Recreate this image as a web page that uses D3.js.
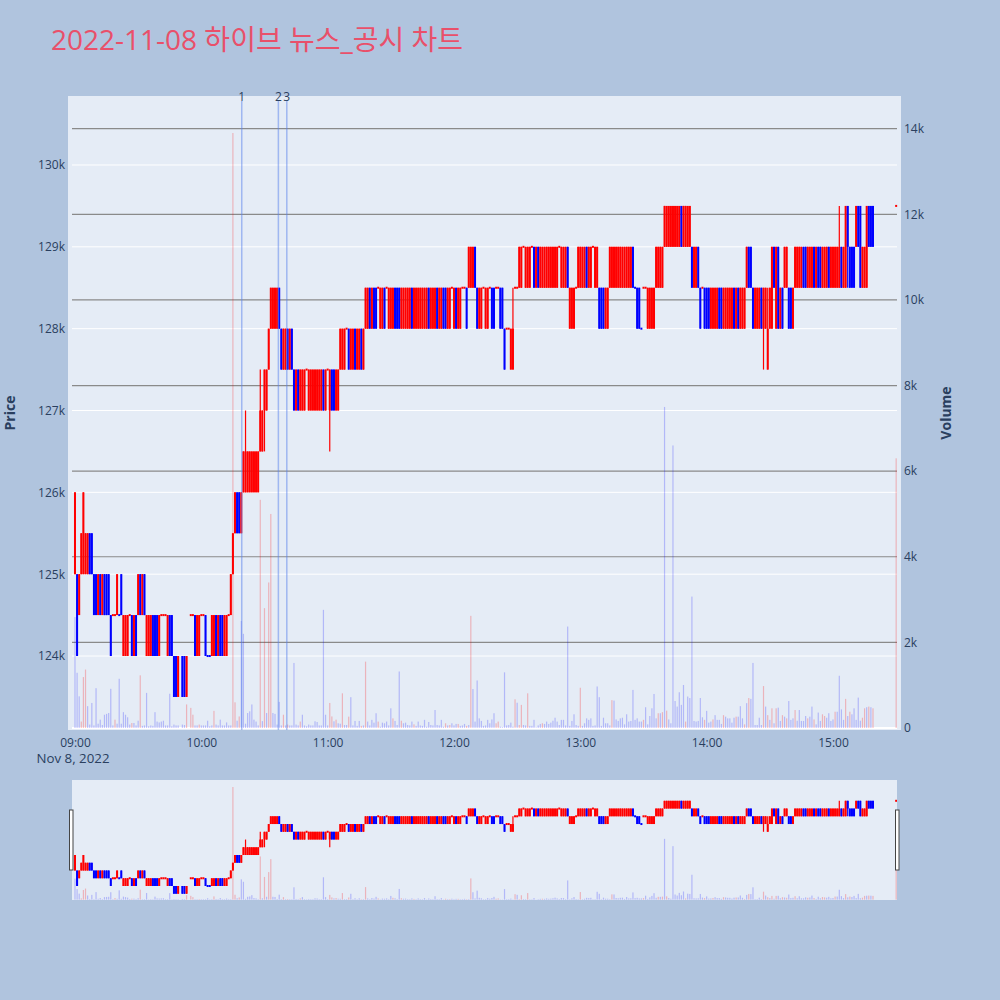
<!DOCTYPE html>
<html>
<head>
<meta charset="utf-8">
<script src="https://cdn.jsdelivr.net/npm/d3@7"></script>
<style>
body { margin: 0; background: #B0C4DE; }
svg { display: block; font-family: "Open Sans", "Noto Sans CJK KR", sans-serif; }
</style>
</head>
<body>
<script>
// one entry per minute from 09:00 (index 0) to 15:30 (index 390), prices in thousand won
var opens = [
  125,125,124.5,125,125,125,125,125.5,125.5,125,               // 09:00
  125,124.5,125,124.5,125,125,125,124.5,124.5,124.5,           // 09:10
  124.5,124.5,125,124,124,124,124.5,124.5,124,124.5,           // 09:20
  124.5,125,124.5,125,124,124,124,124.5,124.5,124.5,           // 09:30
  124,124.5,124.5,124.5,124,124.5,124.5,124,124,123.5,         // 09:40
  null,124,124,123.5,null,124.5,124.5,124.5,124,124,           // 09:50
  124.5,124.5,124.5,124,124,124,124,124.5,124,124.5,           // 10:00
  124.5,124,124,124.5,124.5,125,125.5,126,126,125.5,           // 10:10
  126,126,126,126,126,126,126,126,126.5,126.5,                 // 10:20
  127,127,127.5,128,128,128,128,128.5,128,127.5,               // 10:30
  127.5,128,127.5,128,127.5,127,127.5,127,127,127,             // 10:40
  127.5,127,127,127,127,127,127,127,127.5,127,                 // 10:50
  127.5,127,127.5,127.5,127,127,127.5,127.5,127.5,128,         // 11:00
  128,127.5,127.5,128,127.5,127.5,128,127.5,128,128,           // 11:10
  128.5,128,128.5,128.5,128.5,128,128,128.5,128.5,128,         // 11:20
  128,128,128.5,128.5,128.5,128,128,128,128,128,               // 11:30
  128.5,128,128,128,128,128,128,128,128.5,128,                 // 11:40
  128,128,128.5,128,128,128.5,128.5,128,128,128.5,             // 11:50
  128,128.5,128,128,128.5,128.5,128.5,128.5,128.5,128.5,       // 12:00
  129,128.5,128,128,128.5,128,128,128.5,128.5,128.5,           // 12:10
  128.5,128.5,128.5,128.5,128,128,128,127.5,127.5,128.5,       // 12:20
  128.5,128.5,128.5,129,128.5,128.5,128.5,129,129,128.5,       // 12:30
  129,128.5,128.5,128.5,128.5,128.5,128.5,128.5,128.5,128.5,   // 12:40
  129,128.5,128.5,128.5,129,128,128,128,128.5,128.5,           // 12:50
  128.5,128.5,128.5,129,128.5,128.5,129,128.5,128.5,128.5,     // 13:00
  128.5,128.5,128,128,128.5,128.5,128.5,128.5,128.5,128.5,     // 13:10
  128.5,128.5,128.5,128.5,128.5,129,128.5,128.5,128.5,128,     // 13:20
  128.5,128.5,128,128,128,128,128.5,128.5,128.5,128.5,         // 13:30
  129,129,129,129,129,129,129,129,129.5,129,                   // 13:40
  129,129,129,129,128.5,128.5,129,128.5,128.5,128.5,           // 13:50
  128.5,128.5,128,128,128,128,128.5,128.5,128,128,             // 14:00
  128,128,128,128.5,128,128.5,128,128,128,128.5,               // 14:10
  129,129,128.5,128,128,128,128.5,128,128,127.5,               // 14:20
  128,128,129,128,129,128,128.5,128.5,128.5,128.5,             // 14:30
  128.5,128,128.5,128.5,128.5,128.5,129,129,128.5,128.5,       // 14:40
  128.5,129,128.5,129,129,128.5,128.5,128.5,129,128.5,         // 14:50
  128.5,128.5,128.5,128.5,129,128.5,128.5,129.5,129,129,       // 15:00
  129,129,129.5,129.5,128.5,128.5,128.5,129.5,129.5,129.5,     // 15:10
  null,null,null,null,null,null,null,null,null,null,           // 15:20
  129.5                                                        // 15:30
];
var closes = [
  126,124,125,125.5,126,125.5,125.5,125,125,124.5,
  124.5,125,124.5,125,124.5,124.5,124.5,124,124.5,124.5,
  125,124.5,124.5,124.5,124.5,124.5,124.5,124,124.5,124,
  125,124.5,125,124.5,124.5,124.5,124.5,124,124,124,
  124.5,124.5,124.5,124.5,124.5,124,124,123.5,123.5,124,
  null,123.5,123.5,124,null,124.5,124.5,124,124.5,124.5,
  124.5,124.5,124,124,124,124.5,124.5,124,124.5,124,
  124,124.5,124.5,124.5,125,125.5,126,125.5,125.5,126,
  126.5,126.5,126.5,126.5,126.5,126.5,126.5,126.5,127,127,
  127.5,127.5,128,128.5,128.5,128.5,128.5,128,127.5,128,
  128,127.5,128,127.5,127,127.5,127,127.5,127.5,127.5,
  127.5,127.5,127.5,127.5,127.5,127.5,127.5,127.5,127,127.5,
  127.5,127.5,127,127,127.5,127.5,128,128,128,128,
  127.5,128,128,127.5,128,128,127.5,128,128.5,128.5,
  128,128.5,128,128,128.5,128.5,128.5,128,128.5,128.5,
  128.5,128.5,128,128,128,128.5,128.5,128.5,128.5,128.5,
  128,128.5,128.5,128.5,128.5,128.5,128.5,128.5,128,128.5,
  128.5,128.5,128,128.5,128.5,128,128,128.5,128.5,128.5,
  128.5,128,128.5,128.5,128.5,128.5,128,129,129,129,
  128.5,128,128.5,128.5,128.5,128.5,128.5,128.5,128,128,
  128.5,128.5,128,128,127.5,128,128,128,128,128.5,
  128.5,129,129,129,129,129,129,129,128.5,129,
  128.5,129,129,129,129,129,129,129,129,129,
  129,129,129,129,128.5,128.5,128.5,128.5,128.5,129,
  129,129,129,128.5,129,129,129,129,129,128,
  128,128,128.5,128.5,129,129,129,129,129,129,
  129,129,129,129,129,128.5,128.5,128,128,128,
  128.5,128.5,128.5,128.5,128.5,128.5,129,129,129,129,
  129.5,129.5,129.5,129.5,129.5,129.5,129.5,129.5,129,129.5,
  129.5,129.5,129.5,128.5,129,129,128.5,128,128.5,128,
  128,128,128.5,128.5,128.5,128.5,128,128,128.5,128.5,
  128.5,128.5,128.5,128,128.5,128,128.5,128.5,128.5,129,
  128.5,128.5,128,128.5,128.5,128.5,128,128.5,128.5,128,
  128.5,129,128.5,129,128,128.5,128,129,129,128,
  128,128.5,129,129,129,129,128.5,128.5,129,129,
  129,128.5,129,128.5,128.5,129,129,129,128.5,129,
  129,129,129,129,128.5,129,129.5,129,128.5,128.5,
  128.5,129.5,129,128.5,129,129,129.5,129,129,129,
  null,null,null,null,null,null,null,null,null,null,
  129.5
];
var highs = [
  126,125,125,125.5,126,125.5,125.5,125.5,125.5,125,
  125,125,125,125,125,125,125,124.5,124.5,124.5,
  125,124.5,125,124.5,124.5,124.5,124.5,124.5,124.5,124.5,
  125,125,125,125,124.5,124.5,124.5,124.5,124.5,124.5,
  124.5,124.5,124.5,124.5,124.5,124.5,124.5,124,124,124,
  null,124,124,124,null,124.5,124.5,124.5,124.5,124.5,
  124.5,124.5,124.5,124,124,124.5,124.5,124.5,124.5,124.5,
  124.5,124.5,124.5,124.5,125,125.5,126,126,126,126,
  126.5,127,126.5,126.5,126.5,126.5,126.5,126.5,127.5,127,
  127.5,127.5,128,128.5,128.5,128.5,128.5,128.5,128,128,
  128,128,128,128,127.5,127.5,127.5,127.5,127.5,127.5,
  127.5,127.5,127.5,127.5,127.5,127.5,127.5,127.5,127.5,127.5,
  127.5,127.5,127.5,127.5,127.5,127.5,128,128,128,128,
  128,128,128,128,128,128,128,128,128.5,128.5,
  128.5,128.5,128.5,128.5,128.5,128.5,128.5,128.5,128.5,128.5,
  128.5,128.5,128.5,128.5,128.5,128.5,128.5,128.5,128.5,128.5,
  128.5,128.5,128.5,128.5,128.5,128.5,128.5,128.5,128.5,128.5,
  128.5,128.5,128.5,128.5,128.5,128.5,128.5,128.5,128.5,128.5,
  128.5,128.5,128.5,128.5,128.5,128.5,128.5,129,129,129,
  129,128.5,128.5,128.5,128.5,128.5,128.5,128.5,128.5,128.5,
  128.5,128.5,128.5,128.5,128,128,128,128,128.5,128.5,
  128.5,129,129,129,129,129,129,129,129,129,
  129,129,129,129,129,129,129,129,129,129,
  129,129,129,129,129,128.5,128.5,128.5,128.5,129,
  129,129,129,129,129,129,129,129,129,128.5,
  128.5,128.5,128.5,128.5,129,129,129,129,129,129,
  129,129,129,129,129,129,128.5,128.5,128.5,128,
  128.5,128.5,128.5,128.5,128.5,128.5,129,129,129,129,
  129.5,129.5,129.5,129.5,129.5,129.5,129.5,129.5,129.5,129.5,
  129.5,129.5,129.5,129,129,129,129,128.5,128.5,128.5,
  128.5,128.5,128.5,128.5,128.5,128.5,128.5,128.5,128.5,128.5,
  128.5,128.5,128.5,128.5,128.5,128.5,128.5,128.5,128.5,129,
  129,129,128.5,128.5,128.5,128.5,128.5,128.5,128.5,128.5,
  128.5,129,129,129,129,128.5,128.5,129,129,128.5,
  128.5,128.5,129,129,129,129,129,129,129,129,
  129,129,129,129,129,129,129,129,129,129,
  129,129,129,129.5,129,129,129.5,129.5,129,129,
  129,129.5,129.5,129.5,129,129,129.5,129.5,129.5,129.5,
  null,null,null,null,null,null,null,null,null,null,
  129.5
];
var lows = [
  125,124,124.5,125,125,125,125,125,125,124.5,
  124.5,124.5,124.5,124.5,124.5,124.5,124.5,124,124.5,124.5,
  124.5,124.5,124.5,124,124,124,124.5,124,124,124,
  124.5,124.5,124.5,124.5,124,124,124,124,124,124,
  124,124.5,124.5,124.5,124,124,124,123.5,123.5,123.5,
  null,123.5,123.5,123.5,null,124.5,124.5,124,124,124,
  124.5,124.5,124,124,124,124,124,124,124,124,
  124,124,124,124.5,124.5,125,125.5,125.5,125.5,125.5,
  126,126,126,126,126,126,126,126,126.5,126.5,
  126.5,127,127.5,128,128,128,128,128,127.5,127.5,
  127.5,127.5,127.5,127.5,127,127,127,127,127,127,
  127.5,127,127,127,127,127,127,127,127,127,
  127.5,126.5,127,127,127,127,127.5,127.5,127.5,128,
  127.5,127.5,127.5,127.5,127.5,127.5,127.5,127.5,128,128,
  128,128,128,128,128.5,128,128,128,128.5,128,
  128,128,128,128,128,128,128,128,128,128,
  128,128,128,128,128,128,128,128,128,128,
  128,128,128,128,128,128,128,128,128,128.5,
  128,128,128,128,128.5,128.5,128,128.5,128.5,128.5,
  128.5,128,128,128,128.5,128,128,128.5,128,128,
  128.5,128.5,128,128,127.5,128,128,127.5,127.5,128.5,
  128.5,128.5,128.5,129,128.5,128.5,128.5,129,128.5,128.5,
  128.5,128.5,128.5,128.5,128.5,128.5,128.5,128.5,128.5,128.5,
  129,128.5,128.5,128.5,128.5,128,128,128,128.5,128.5,
  128.5,128.5,128.5,128.5,128.5,128.5,129,128.5,128.5,128,
  128,128,128,128,128.5,128.5,128.5,128.5,128.5,128.5,
  128.5,128.5,128.5,128.5,128.5,128.5,128.5,128,128,128,
  128.5,128.5,128,128,128,128,128.5,128.5,128.5,128.5,
  129,129,129,129,129,129,129,129,129,129,
  129,129,129,128.5,128.5,128.5,128.5,128,128.5,128,
  128,128,128,128,128,128,128,128,128,128,
  128,128,128,128,128,128,128,128,128,128.5,
  128.5,128.5,128,128,128,128,128,127.5,128,127.5,
  128,128,128.5,128,128,128,128,128.5,128.5,128,
  128,128,128.5,128.5,128.5,128.5,128.5,128.5,128.5,128.5,
  128.5,128.5,128.5,128.5,128.5,128.5,128.5,128.5,128.5,128.5,
  128.5,128.5,128.5,128.5,128.5,128.5,128.5,128.5,128.5,128.5,
  128.5,129,129,128.5,128.5,128.5,128.5,129,129,129,
  null,null,null,null,null,null,null,null,null,null,
  129.5
];
// traded shares per minute
var volumes = [
  2590,1290,740,150,1190,1365,510,80,585,60,
  930,100,195,70,310,330,350,915,60,195,
  100,1150,100,370,310,250,80,117,117,60,
  170,1230,50,60,820,40,60,50,370,150,
  130,150,170,60,60,800,40,80,60,60,
  0,80,70,550,0,470,310,60,60,80,
  60,60,60,170,40,60,400,80,60,195,
  60,60,130,60,60,13900,600,170,270,2500,
  2200,100,350,390,550,195,150,60,5330,160,
  2800,350,3400,5000,350,330,80,610,60,310,
  60,80,60,60,1520,80,60,150,310,60,
  40,80,60,60,156,140,60,60,2760,310,
  60,585,270,156,195,110,100,810,70,70,
  265,720,60,165,50,165,50,60,1550,150,
  60,190,125,345,150,30,125,110,150,60,
  460,225,165,70,1320,170,110,125,70,60,
  150,85,50,150,60,50,190,30,140,70,
  60,420,70,60,190,30,110,60,70,110,
  60,95,95,50,60,95,50,70,2620,910,
  150,1110,225,165,50,60,190,110,200,345,
  110,150,30,20,1300,60,70,125,30,670,
  590,70,540,70,60,810,50,50,190,15,
  60,95,110,95,150,95,125,170,240,150,
  70,190,190,60,2370,50,165,320,70,50,
  940,50,110,225,190,225,50,60,970,720,
  50,240,110,110,60,650,640,200,165,225,
  240,85,320,150,165,890,190,225,150,150,
  190,485,85,280,460,795,225,345,345,370,
  7500,405,200,110,6600,630,500,835,540,1005,
  150,735,700,3070,165,150,165,700,250,190,
  400,125,150,200,300,190,190,95,300,265,
  225,225,125,240,265,265,510,225,85,580,
  700,680,1520,70,70,240,70,980,500,300,
  190,460,110,460,475,165,300,265,225,630,
  190,225,420,170,420,165,165,280,225,265,
  500,200,85,360,165,320,280,240,345,165,
  200,380,380,1220,435,190,680,280,380,320,
  460,190,710,170,240,460,485,500,485,460,
  0,0,0,0,0,0,0,0,0,0,
  6300
];
// minutes whose volume bar is drawn red (the rest are blue)
var redVolumeMinutes = [3,4,5,19,27,31,53,55,56,59,66,75,76,78,88,90,92,93,99,101,107,121,122,124,127,
  130,136,138,144,151,155,161,176,178,182,186,188,200,201,209,211,212,215,222,240,255,270,277,279,281,
  290,299,303,308,314,318,320,327,329,331,333,336,338,342,348,351,355,356,361,366,368,374,375,377,379,390];

var newsTimes = ["10:19:12", "10:36:36", "10:40:36"];
var newsLabels = ["1", "2", "3"];
var priceTicks = [124, 125, 126, 127, 128, 129, 130];
var volumeTicks = [0, 2000, 4000, 6000, 8000, 10000, 12000, 14000];

var w = 1000;
var h = 1000;
var textColor = "#2a3f5f";

var t0 = d3.timeParse("%H:%M:%S")("09:00:00");
var timeAt = function(i) { return d3.timeMinute.offset(t0, i); };

var svg = d3.select("body")
    .append("svg")
        .attr("width", w)
        .attr("height", h);

var x = d3.scaleTime()
    .domain([d3.timeSecond.offset(t0, -199), d3.timeSecond.offset(t0, 23538)])
    .range([68, 901]);
var yPrice = d3.scaleLinear().domain([123.096, 130.843]).range([730, 96]);
var yVol = d3.scaleLinear().domain([-47, 14764]).range([730, 96]);

// direction: close vs open, ties fall back to previous close
var candles = [];
var prevClose = null, prevDir = 1;
opens.forEach(function(o, i) {
    if (o == null) return;
    var c = closes[i];
    var dir;
    if (c > o) dir = 1;
    else if (c < o) dir = -1;
    else if (prevClose == null || c == prevClose) dir = prevDir;
    else dir = c > prevClose ? 1 : -1;
    prevClose = c;
    prevDir = dir;
    candles.push({t: timeAt(i), o: o, c: c, h: highs[i], l: lows[i], dir: dir});
});

var vols = [];
volumes.forEach(function(v, i) {
    if (v > 0) vols.push({t: timeAt(i), v: v, red: redVolumeMinutes.indexOf(i) >= 0});
});

var drawSeries = function(g, xs, yp, yv) {
    g.selectAll("rect.vol")
        .data(vols)
        .enter()
        .append("rect")
            .attr("class", "vol")
            .attr("x", function(d) { return xs(d.t) - 0.6; })
            .attr("width", 1.2)
            .attr("y", function(d) { return yv(d.v); })
            .attr("height", function(d) { return yv(0) - yv(d.v); })
            .attr("fill", function(d) { return d.red ? "rgba(255,0,0,0.24)" : "rgba(0,0,255,0.22)"; });

    g.selectAll("line.wick")
        .data(candles)
        .enter()
        .append("line")
            .attr("class", "wick")
            .attr("x1", function(d) { return xs(d.t); })
            .attr("x2", function(d) { return xs(d.t); })
            .attr("y1", function(d) { return yp(d.h); })
            .attr("y2", function(d) { return yp(d.l); })
            .attr("stroke", function(d) { return d.dir > 0 ? "#ff0000" : "#0000ff"; })
            .attr("stroke-width", 1.2);

    g.selectAll("rect.body")
        .data(candles)
        .enter()
        .append("rect")
            .attr("class", "body")
            .attr("x", function(d) { return xs(d.t) - 1; })
            .attr("width", 2)
            .attr("y", function(d) { return d.o == d.c ? yp(d.o) - 1 : yp(Math.max(d.o, d.c)); })
            .attr("height", function(d) { return d.o == d.c ? 2 : Math.abs(yp(d.o) - yp(d.c)); })
            .attr("fill", function(d) { return d.dir > 0 ? "#ff0000" : "#0000ff"; });
};

// title
svg.append("text")
    .text("2022-11-08 하이브 뉴스_공시 차트")
    .attr("x", 51)
    .attr("y", 50)
    .attr("font-size", 28)
    .attr("fill", "#e9506a");

// main plot
svg.append("rect")
    .attr("x", 68).attr("y", 96)
    .attr("width", 833).attr("height", 634)
    .attr("fill", "#e5ecf6");

svg.append("clipPath").attr("id", "mainClip")
    .append("rect").attr("x", 68).attr("y", 96).attr("width", 833).attr("height", 634);

svg.append("g").selectAll("line")
    .data(priceTicks)
    .enter()
    .append("line")
        .attr("x1", 72).attr("x2", 897)
        .attr("y1", function(d) { return yPrice(d); })
        .attr("y2", function(d) { return yPrice(d); })
        .attr("stroke", "#ffffff")
        .attr("stroke-width", 1);

svg.append("g").selectAll("line")
    .data(volumeTicks)
    .enter()
    .append("line")
        .attr("x1", 72).attr("x2", 897)
        .attr("y1", function(d) { return yVol(d); })
        .attr("y2", function(d) { return yVol(d); })
        .attr("stroke", function(d) { return d == 0 ? "#ffffff" : "#8a8a8a"; })
        .attr("stroke-width", function(d) { return d == 0 ? 2 : 1.2; });

var main = svg.append("g").attr("clip-path", "url(#mainClip)");
drawSeries(main, x, yPrice, yVol);

// news markers
var news = newsTimes.map(function(s, i) {
    return {t: d3.timeParse("%H:%M:%S")(s), label: newsLabels[i]};
});
main.selectAll("line.news")
    .data(news)
    .enter()
    .append("line")
        .attr("class", "news")
        .attr("x1", function(d) { return x(d.t); })
        .attr("x2", function(d) { return x(d.t); })
        .attr("y1", 101)
        .attr("y2", 730)
        .attr("stroke", "rgba(90,130,235,0.5)")
        .attr("stroke-width", 1.5);
svg.selectAll("text.news")
    .data(news)
    .enter()
    .append("text")
        .attr("class", "news")
        .text(function(d) { return d.label; })
        .attr("x", function(d) { return x(d.t); })
        .attr("y", 101)
        .attr("text-anchor", "middle")
        .attr("font-size", 12)
        .attr("fill", textColor);

// axes
var styleAxis = function(g) {
    g.select(".domain").remove();
    g.selectAll("text").attr("fill", textColor).attr("font-size", 12)
        .attr("font-family", "'Open Sans', sans-serif");
};

svg.append("g")
    .attr("transform", "translate(68,0)")
    .call(d3.axisLeft(yPrice).tickValues(priceTicks).tickSize(0).tickPadding(3)
        .tickFormat(function(d) { return d + "k"; }))
    .call(styleAxis);

svg.append("g")
    .attr("transform", "translate(901,0)")
    .call(d3.axisRight(yVol).tickValues(volumeTicks).tickSize(0).tickPadding(3)
        .tickFormat(function(d) { return d == 0 ? "0" : (d / 1000) + "k"; }))
    .call(styleAxis);

svg.append("g")
    .attr("transform", "translate(0,730)")
    .call(d3.axisBottom(x).ticks(d3.timeHour.every(1)).tickSize(0).tickPadding(8)
        .tickFormat(d3.timeFormat("%H:%M")))
    .call(styleAxis);

svg.append("text")
    .text("Nov 8, 2022")
    .attr("x", 73)
    .attr("y", 763)
    .attr("text-anchor", "middle")
    .attr("font-size", 13.3)
    .attr("fill", textColor);

svg.append("text")
    .text("Price")
    .attr("transform", "translate(15,413) rotate(-90)")
    .attr("text-anchor", "middle")
    .attr("font-size", 14)
    .attr("font-weight", "bold")
    .attr("fill", textColor);

svg.append("text")
    .text("Volume")
    .attr("transform", "translate(951,413) rotate(-90)")
    .attr("text-anchor", "middle")
    .attr("font-size", 14)
    .attr("font-weight", "bold")
    .attr("fill", textColor);

// range slider
var sliderPrice = yPrice.copy().range([900, 780]);
var sliderVol = yVol.copy().range([900, 780]);

svg.append("rect")
    .attr("x", 72).attr("y", 780)
    .attr("width", 825).attr("height", 120)
    .attr("fill", "#e5ecf6");

svg.append("clipPath").attr("id", "sliderClip")
    .append("rect").attr("x", 72).attr("y", 780).attr("width", 825).attr("height", 120);

var slider = svg.append("g").attr("clip-path", "url(#sliderClip)");
drawSeries(slider, x, sliderPrice, sliderVol);

svg.selectAll("rect.handle")
    .data([69.5, 895.5])
    .enter()
    .append("rect")
        .attr("class", "handle")
        .attr("x", function(d) { return d; })
        .attr("y", 810)
        .attr("width", 3.5)
        .attr("height", 60)
        .attr("fill", "#ffffff")
        .attr("stroke", "#444444")
        .attr("stroke-width", 1);
</script>
</body>
</html>
